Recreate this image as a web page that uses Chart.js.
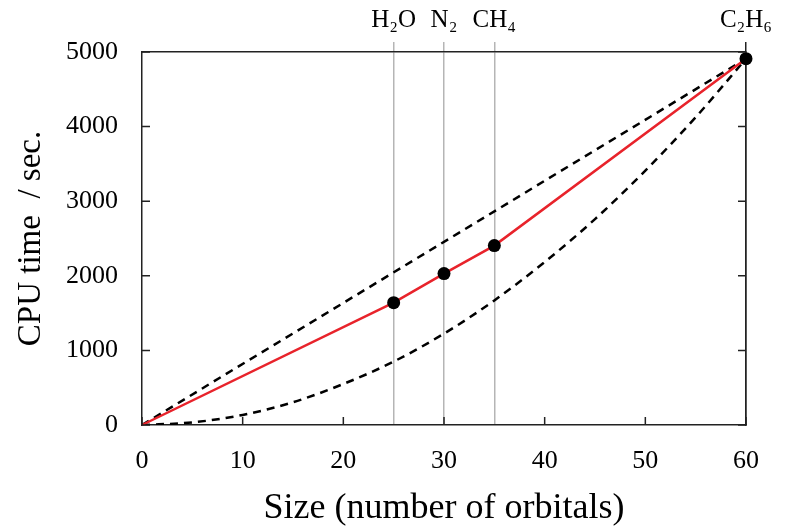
<!DOCTYPE html>
<html>
<head>
<meta charset="utf-8">
<script src="https://cdn.jsdelivr.net/npm/chart.js@4/dist/chart.umd.min.js"></script>
<style>
html,body{margin:0;padding:0;background:#fff;}
#wrap{width:786px;height:528px;position:relative;}
</style>
</head>
<body>
<div id="wrap"><canvas id="c" width="786" height="528"></canvas></div>
<script>
// ---- data ----
const molecules = ['H\u2082O', 'N\u2082', 'CH\u2084', 'C\u2082H\u2086'];
const moleculeSizes = [25, 30, 35, 60];
const measuredX = [0, 25, 30, 35, 60];
const measuredTime = [0, 1640, 2030, 2405, 4910];
const linearX = [0, 60];
const linearTime = [0, 4910];
const quadX = [0, 5, 10, 15, 20, 25, 30, 35, 40, 45, 50, 55, 60];
const quadTime = [0, 35, 135, 305, 550, 850, 1225, 1670, 2185, 2760, 3410, 4125, 4910];
const xTickValues = [0, 10, 20, 30, 40, 50, 60];
const yTickValues = [0, 1000, 2000, 3000, 4000, 5000];

const FONT = "'Liberation Serif', 'DejaVu Serif', serif";
const pts = (xs, ys) => xs.map((x, i) => ({x: x, y: ys[i]}));

const inwardTicks = {
  id: 'inwardTicks',
  afterDraw(chart) {
    const {ctx, chartArea: a, scales} = chart;
    ctx.save();
    ctx.strokeStyle = '#222';
    ctx.lineWidth = 1.5;
    const L = 8;
    ctx.beginPath();
    xTickValues.forEach(v => {
      const px = scales.x.getPixelForValue(v);
      ctx.moveTo(px, a.bottom); ctx.lineTo(px, a.bottom - L);
    });
    yTickValues.forEach(v => {
      const py = scales.y.getPixelForValue(v);
      ctx.moveTo(a.left, py); ctx.lineTo(a.left + L, py);
      ctx.moveTo(a.right, py); ctx.lineTo(a.right - L, py);
    });
    ctx.stroke();
    ctx.restore();
  }
};

new Chart(document.getElementById('c'), {
  type: 'line',
  data: {
    datasets: [
      {
        data: pts(measuredX, measuredTime),
        borderColor: '#e8232b',
        borderWidth: 2.5,
        pointRadius: measuredX.map((x, i) => i === 0 ? 0 : 6.5),
        pointBackgroundColor: '#000',
        pointBorderColor: '#000',
        pointBorderWidth: 0,
        tension: 0,
        clip: false,
        order: 0
      },
      {
        data: pts(linearX, linearTime),
        borderColor: '#000',
        borderWidth: 2.5,
        borderDash: [8, 6],
        pointRadius: 0,
        tension: 0,
        order: 1
      },
      {
        data: pts(quadX, quadTime),
        borderColor: '#000',
        borderWidth: 2.5,
        borderDash: [8, 6],
        pointRadius: 0,
        cubicInterpolationMode: 'monotone',
        order: 2
      }
    ]
  },
  options: {
    responsive: false,
    animation: false,
    events: [],
    layout: {padding: {left: 0, right: 40, top: 0, bottom: 0}},
    plugins: {legend: {display: false}, tooltip: {enabled: false}},
    scales: {
      x: {
        type: 'linear', position: 'bottom', min: 0, max: 60,
        afterBuildTicks: s => { s.ticks = xTickValues.map(v => ({value: v})); },
        afterFit: s => { s.height = 103; },
        ticks: {color: '#000', font: {family: FONT, size: 26}, padding: 21, maxRotation: 0,
                callback: v => String(v)},
        grid: {display: true, drawOnChartArea: false, drawTicks: false},
        border: {display: true, color: '#222', width: 1.5},
        title: {display: true, text: 'Size (number of orbitals)', color: '#000',
                font: {family: FONT, size: 36}, padding: {top: 0, bottom: -2}}
      },
      x2: {
        type: 'linear', position: 'top', min: 0, max: 60,
        afterBuildTicks: s => { s.ticks = moleculeSizes.map(v => ({value: v})); },
        afterFit: s => { s.height = 52; },
        ticks: {color: '#000', font: {family: FONT, size: 25}, padding: 7, maxRotation: 0,
                callback: (v) => molecules[moleculeSizes.indexOf(v)]},
        grid: {display: true, drawOnChartArea: true, drawTicks: true, tickLength: 10,
               color: ctx => (ctx.tick && ctx.tick.value === 60) ? '#222' : '#b5b5b5',
               lineWidth: 1.5},
        border: {display: true, color: '#222', width: 1.5}
      },
      y: {
        type: 'linear', position: 'left', min: 0, max: 5000,
        afterBuildTicks: s => { s.ticks = yTickValues.map(v => ({value: v})); },
        afterFit: s => { s.width = 142; },
        ticks: {color: '#000', font: {family: FONT, size: 26}, padding: 24,
                callback: v => String(v)},
        grid: {display: true, drawOnChartArea: false, drawTicks: false},
        border: {display: true, color: '#222', width: 1.5},
        title: {display: true, text: 'CPU time  / sec.', color: '#000',
                font: {family: FONT, size: 33}, padding: {top: 12, bottom: 0}}
      },
      y2: {
        type: 'linear', position: 'right', min: 0, max: 5000,
        afterFit: s => { s.width = 0; },
        ticks: {display: false},
        grid: {display: true, drawOnChartArea: false, drawTicks: false},
        border: {display: true, color: '#222', width: 1.5}
      }
    }
  },
  plugins: [inwardTicks]
});
</script>
</body>
</html>
